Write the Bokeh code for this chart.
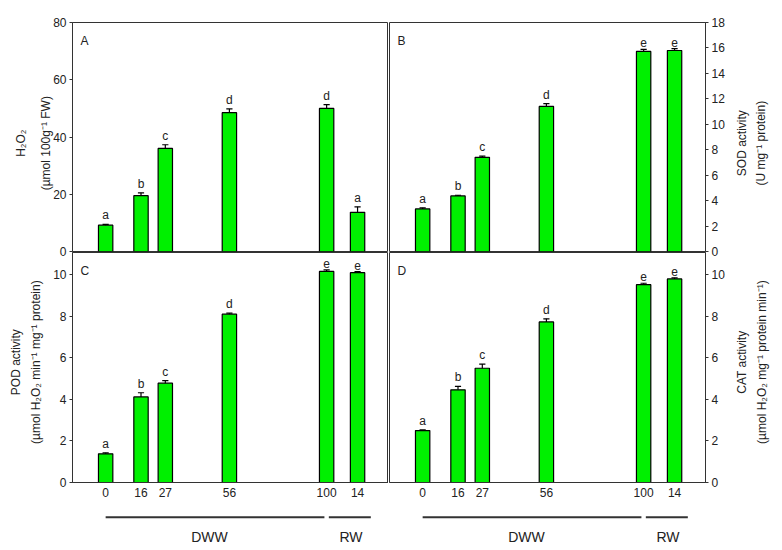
import math
from bokeh.plotting import figure
from bokeh.layouts import column, row
from bokeh.models import Range1d, FixedTicker, Label, ColumnDataSource
from bokeh.embed import file_html
from bokeh.resources import INLINE
from bokeh.core.properties import value

# ---- data ----
days = [0, 16, 27, 56, 100, 114]
tick_labels = ["0", "16", "27", "56", "100", "14"]

h2o2 = [9.2, 19.5, 36.0, 48.5, 50.0, 13.7]
h2o2_err = [0.3, 1.0, 1.3, 1.3, 1.3, 1.9]
h2o2_letters = ["a", "b", "c", "d", "d", "a"]

sod = [3.35, 4.37, 7.4, 11.4, 15.73, 15.8]
sod_err = [0.08, 0.05, 0.1, 0.22, 0.15, 0.15]
sod_letters = ["a", "b", "c", "d", "e", "e"]

pod = [1.38, 4.12, 4.78, 8.1, 10.16, 10.1]
pod_err = [0.05, 0.2, 0.12, 0.05, 0.07, 0.05]
pod_letters = ["a", "b", "c", "d", "e", "e"]

cat = [2.5, 4.46, 5.5, 7.73, 9.52, 9.8]
cat_err = [0.03, 0.17, 0.2, 0.15, 0.07, 0.05]
cat_letters = ["a", "b", "c", "d", "e", "e"]

groups = ["DWW", "RW"]
group_start = [0, 101]
group_end = [99, 120]
group_label_x = [47, 111]

title_A = ["H\u2082O\u2082", "(\u00b5mol 100g\u207b\u00b9 FW)"]
title_B = ["SOD activity", "(U mg\u207b\u00b9 protein)"]
title_C = ["POD activity", "(\u00b5mol H\u2082O\u2082 min\u207b\u00b9 mg\u207b\u00b9 protein)"]
title_D = ["CAT activity", "(\u00b5mol H\u2082O\u2082 mg\u207b\u00b9 protein min\u207b\u00b9)"]

# ---- style ----
FONT = "Liberation Sans"
GREEN = "#00f000"
FRAME = "#333333"
TXT = "#222222"
BAR_W = 6.5
CAP = 1.4
X0, X1 = -15, 128
FRAME_W = 316
AX_W = 24          # space for tick marks + tick labels
TITLE_W = 60       # width of the axis-title strips
OVERLAP_L, OVERLAP_R = 12, 10


def clean(p):
    p.xgrid.visible = False
    p.ygrid.visible = False
    p.background_fill_alpha = 0
    p.border_fill_alpha = 0


def panel(vals, errs, letters, ymax, ticks, side, show_x, tag, height, top, bottom):
    left = side == "left"
    p = figure(width=AX_W + FRAME_W if left else 1 + FRAME_W + AX_W, height=height,
               x_range=Range1d(X0, X1), y_range=Range1d(0, ymax),
               output_backend="svg", toolbar_location=None,
               y_axis_location=side, x_axis_location="below" if show_x else None,
               min_border_left=AX_W if left else 1,
               min_border_right=0 if left else AX_W,
               min_border_top=top, min_border_bottom=bottom,
               margin=(0, 0, 0, -OVERLAP_L) if left else (0, 0, 0, 0))
    clean(p)
    p.outline_line_color = FRAME
    p.outline_line_width = 1

    tops = [v + e for v, e in zip(vals, errs)]
    src = ColumnDataSource(dict(x=days, v=vals, t=tops, lab=letters,
                                xl=[d - CAP for d in days], xr=[d + CAP for d in days]))
    p.vbar(x="x", top="v", bottom=0, width=BAR_W, source=src,
           fill_color=GREEN, line_color="black", line_width=1.2)
    p.segment(x0="x", y0="v", x1="x", y1="t", source=src, line_color="black", line_width=1.2)
    p.segment(x0="xl", y0="t", x1="xr", y1="t", source=src, line_color="black", line_width=1.2)
    p.text(x="x", y="t", text="lab", source=src, text_align="center",
           text_baseline="bottom", y_offset=-2, text_font=value(FONT),
           text_font_size="12px", text_color=TXT)

    ax = p.yaxis[0]
    ax.ticker = FixedTicker(ticks=ticks)
    ax.major_label_text_font = FONT
    ax.major_label_text_font_size = "12px"
    ax.major_label_text_color = TXT
    ax.major_tick_in = 0
    ax.major_tick_out = 3
    ax.minor_tick_in = 0
    ax.minor_tick_out = 0
    ax.axis_line_color = FRAME
    ax.major_tick_line_color = FRAME
    ax.major_label_standoff = 3

    if show_x:
        xa = p.xaxis[0]
        xa.ticker = FixedTicker(ticks=days)
        xa.major_label_overrides = {d: s for d, s in zip(days, tick_labels)}
        xa.major_label_text_font = FONT
        xa.major_label_text_font_size = "12px"
        xa.major_label_text_color = TXT
        xa.major_tick_in = 0
        xa.major_tick_out = 0
        xa.minor_tick_in = 0
        xa.minor_tick_out = 0
        xa.axis_line_color = FRAME
        xa.major_label_standoff = 5

    p.add_layout(Label(x=X0, y=ymax, x_offset=8, y_offset=-11, text=tag,
                       text_baseline="top", text_font=FONT,
                       text_font_size="12px", text_color=TXT))
    return p


def title_strip(lines, xs, height, yc, left):
    p = figure(width=TITLE_W, height=height,
               x_range=Range1d(0, TITLE_W), y_range=Range1d(0, height),
               output_backend="svg", toolbar_location=None,
               x_axis_location=None, y_axis_location=None,
               min_border=0, min_border_left=0, min_border_right=0,
               min_border_top=0, min_border_bottom=0,
               margin=(0, 0, 0, 0) if left else (0, 0, 0, -OVERLAP_R))
    clean(p)
    p.outline_line_color = None
    src = ColumnDataSource(dict(x=xs, y=[yc] * len(xs), t=lines))
    p.text(x="x", y="y", text="t", source=src, angle=math.pi / 2,
           text_align="center", text_baseline="middle", text_font=value(FONT),
           text_font_size="12px", text_color=TXT)
    return p


def group_panel(left, height):
    w = TITLE_W - OVERLAP_L + AX_W + FRAME_W if left else 1 + FRAME_W + AX_W
    p = figure(width=w, height=height,
               x_range=Range1d(X0, X1), y_range=Range1d(0, 1),
               output_backend="svg", toolbar_location=None,
               x_axis_location=None, y_axis_location=None,
               min_border_left=w - FRAME_W if left else 1,
               min_border_right=0 if left else AX_W,
               min_border_top=0, min_border_bottom=0)
    clean(p)
    p.outline_line_color = None
    src = ColumnDataSource(dict(x0=group_start, x1=group_end, y=[0.68, 0.68],
                                lx=group_label_x, ly=[0.25, 0.25], lab=groups))
    p.segment(x0="x0", y0="y", x1="x1", y1="y", source=src,
              line_color="#333333", line_width=2)
    p.text(x="lx", y="ly", text="lab", source=src, text_align="center",
           text_baseline="middle", text_font=value(FONT),
           text_font_size="14px", text_color=TXT)
    return p


H_TOP, H_MID, H_BOT = 259, 258, 46

pA = panel(h2o2, h2o2_err, h2o2_letters, 80, [0, 20, 40, 60, 80],
           "left", False, "A", H_TOP, 22, 8)
pB = panel(sod, sod_err, sod_letters, 18, list(range(0, 19, 2)),
           "right", False, "B", H_TOP, 22, 8)
pC = panel(pod, pod_err, pod_letters, 11.07, [0, 2, 4, 6, 8, 10],
           "left", True, "C", H_MID, 8, 20)
pD = panel(cat, cat_err, cat_letters, 11.07, [0, 2, 4, 6, 8, 10],
           "right", True, "D", H_MID, 8, 20)

# right strip starts at page x = 60 - 12 + 340 + 341 - 10 = 719
tA = title_strip(title_A, [20, 45], H_TOP, H_TOP - 136.5, True)
tB = title_strip(title_B, [22.7, 41], H_TOP, H_TOP - 136.5, False)
tC = title_strip(title_C, [15, 35], H_MID, H_MID - 123, True)
tD = title_strip(title_D, [22.7, 42.7], H_MID, H_MID - 123, False)

top_row = row(tA, pA, pB, tB)
mid_row = row(tC, pC, pD, tD, margin=(-15, 0, 0, 0))
bot_row = row(group_panel(True, H_BOT), group_panel(False, H_BOT))
layout = column(top_row, mid_row, bot_row)

open("out.html", "w").write(file_html(layout, INLINE))
